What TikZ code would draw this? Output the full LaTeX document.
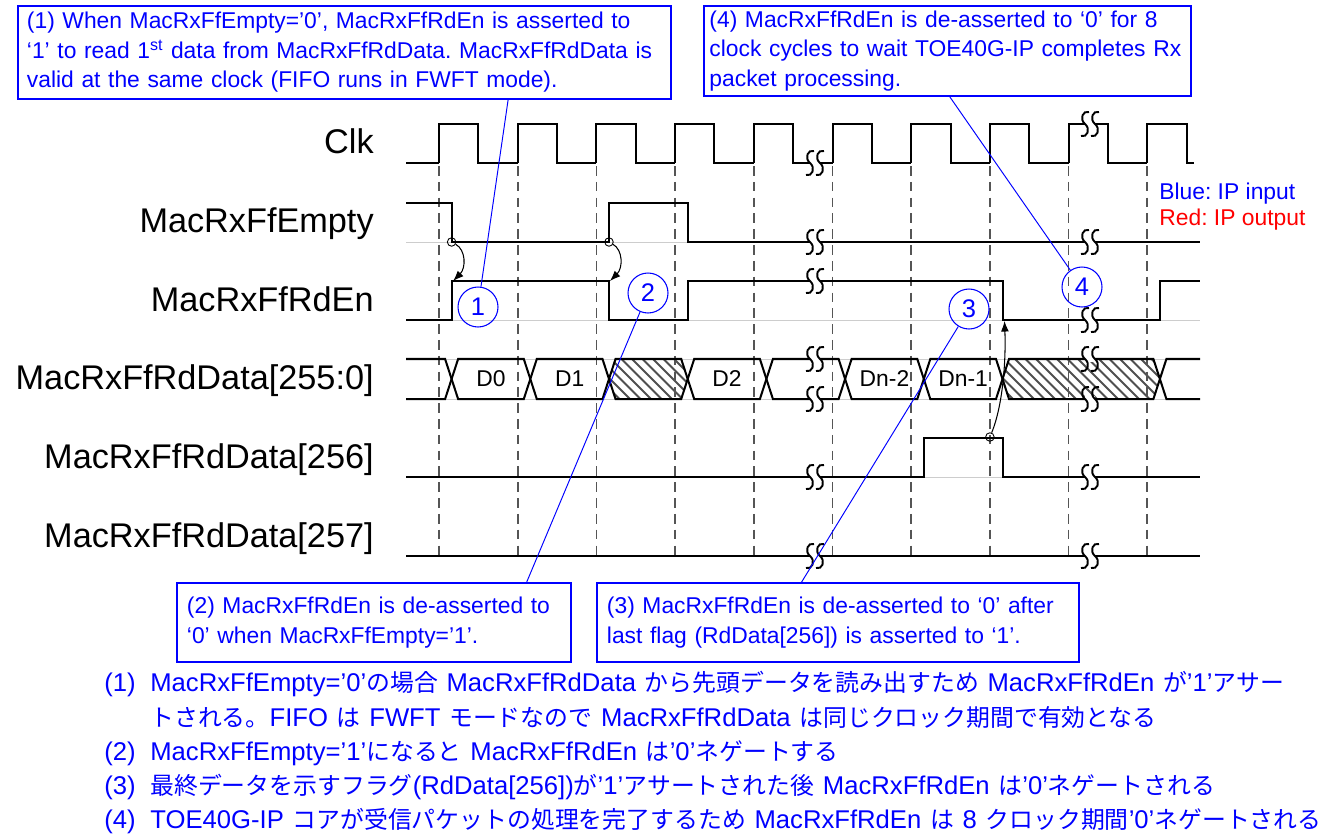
\documentclass[tikz,border=0pt]{standalone}
\usepackage{fontspec}
\setmainfont{Liberation Sans}
\newfontfamily\jpfont[Scale=0.93]{Noto Sans CJK JP}
\usetikzlibrary{arrows.meta, calc}
\definecolor{cBlue}{RGB}{0,0,255}
\definecolor{cRed}{RGB}{255,0,0}
\definecolor{cDash}{RGB}{85,85,85}
\definecolor{cHatch}{RGB}{80,80,80}
\definecolor{cGuide}{RGB}{205,205,205}
\newcommand{\jp}[1]{{\jpfont #1}}
\newcommand{\boxfont}{\fontsize{13}{16.8}\selectfont}
\newcommand{\jpsize}{\fontsize{14.6}{17}\selectfont}
\newcommand{\widespaces}{\spaceskip=0.34em\relax}
\frenchspacing
%% break mark on a waveform: gap plus two S strokes
\newcommand{\sigbreak}[2]{%
  \fill[white] ({#1-5},{#2-3}) rectangle ({#1+5},{#2+3});
  \foreach \sx in {-5,5}
    \draw[brk] ({#1+\sx+4},{#2-12}) .. controls ({#1+\sx-2},{#2-14}) and ({#1+\sx-6},{#2-5}) .. ({#1+\sx},#2)
      .. controls ({#1+\sx+6},{#2+5}) and ({#1+\sx+2},{#2+14}) .. ({#1+\sx-4},{#2+12});
}
\tikzset{
  sig/.style={draw=black, line width=1.15pt, line join=miter},
  guide/.style={draw=cGuide, line width=0.5pt},
  tick/.style={draw=cDash, line width=1pt, dash pattern=on 5.5pt off 3.5pt},
  hatch/.style={draw=cHatch, line width=1.2pt},
  brk/.style={draw=black, line width=1.1pt},
  siglabel/.style={anchor=base east, inner sep=0pt, font=\fontsize{19.5}{22}\selectfont},
  buslabel/.style={inner sep=0pt, font=\boxfont},
  note/.style={rectangle, draw=cBlue, line width=1.1pt, text=cBlue, font=\boxfont,
               align=left, anchor=north west, inner xsep=0.2cm, inner ysep=0pt},
  callout/.style={circle, draw=cBlue, line width=0.6pt, text=cBlue, minimum size=0.8cm,
                  inner sep=0pt, font=\fontsize{14.5}{14.5}\selectfont},
  leader/.style={draw=cBlue, line width=0.55pt},
  cdot/.style={circle, draw=black, line width=0.5pt, minimum size=0.17cm, inner sep=0pt},
  cause/.style={-{Latex[length=6pt,width=4.5pt]}, draw=black, line width=0.6pt},
  legend/.style={anchor=west, inner sep=0pt, font=\boxfont},
  jpline/.style={anchor=base west, inner sep=0pt, text=cBlue, font=\jpsize,
                 execute at begin node=\widespaces},
}

\begin{document}
\begin{tikzpicture}[x=0.02cm, y=-0.02cm]
\useasboundingbox (0,0) rectangle (1325,836);

%% ============================================================
%%  TIMING CONSTANTS
%% ============================================================
\def\tz{439}   % first rising clock edge
\def\tp{78.7}  % clock period
\def\dl{12.6}  % delay of outputs after the edge
\def\hx{6.5}   % half width of a bus crossing
\def\xa{406}
\def\xb{1200}
\def\yC{163}  \def\yE{242}  \def\yR{320}
\def\yBt{359} \def\yBm{379} \def\yBb{399}
\def\yF{477}  \def\yG{556}

%% ----- faint guides -----
\foreach \gy in {\yE,\yR,\yBt,\yBb,\yF}
  \draw[guide] (\xa,\gy) -- (\xb,\gy);

%% ----- hatched (invalid) bus segments -----
\foreach \a/\b in {2/3,7/9} {
  \pgfmathsetmacro\ca{\tz+\dl+\a*\tp}
  \pgfmathsetmacro\cb{\tz+\dl+\b*\tp}
  \begin{scope}
    \clip (\ca,\yBm) -- ({\ca+\hx},\yBt) -- ({\cb-\hx},\yBt) -- (\cb,\yBm)
      -- ({\cb-\hx},\yBb) -- ({\ca+\hx},\yBb) -- cycle;
    \foreach \s in {0,...,20}
      \draw[hatch] ({\ca-40+\s*10.5},\yBt) -- ++(40,40);
  \end{scope}
}

%% ----- clock edge markers -----
\foreach \k in {0,...,9}
  \draw[tick] ({\tz+\k*\tp},166) -- ({\tz+\k*\tp},\yG);

%% ============================================================
%%  WAVEFORMS
%% ============================================================
% Clk
\draw[sig] (\xa,\yC) -- (\tz,\yC);
\foreach \k in {0,...,8}
  \draw[sig] ({\tz+\k*\tp},\yC) -- ++(0,-39) -- ++({\tp/2},0) -- ++(0,39) -- ++({\tp/2},0);
\draw[sig] ({\tz+9*\tp},\yC) -- ++(0,-39) -- ++({\tp/2},0) -- ++(0,39) -- (1194,\yC);

% MacRxFfEmpty
\draw[sig] (\xa,{\yE-39}) -- ({\tz+\dl},{\yE-39}) -- ({\tz+\dl},\yE)
  -- ({\tz+\dl+2*\tp},\yE) -- ++(0,-39) -- ({\tz+\dl+3*\tp},{\yE-39}) -- ++(0,39) -- (\xb,\yE);

% MacRxFfRdEn
\draw[sig] (\xa,\yR) -- ({\tz+\dl},\yR) -- ++(0,-39) -- ({\tz+\dl+2*\tp},{\yR-39}) -- ++(0,39)
  -- ({\tz+\dl+3*\tp},\yR) -- ++(0,-39) -- ({\tz+\dl+7*\tp},{\yR-39}) -- ++(0,39)
  -- ({\tz+\dl+9*\tp},\yR) -- ++(0,-39) -- (\xb,{\yR-39});

% MacRxFfRdData[255:0]
\draw[sig] (\xa,\yBt) -- ({\tz+\dl-\hx},\yBt) -- ({\tz+\dl},\yBm) -- ({\tz+\dl-\hx},\yBb) -- (\xa,\yBb);
\foreach \a/\b in {0/1,1/2,2/3,3/4,4/5,5/6,6/7,7/9} {
  \pgfmathsetmacro\ca{\tz+\dl+\a*\tp}
  \pgfmathsetmacro\cb{\tz+\dl+\b*\tp}
  \draw[sig] (\ca,\yBm) -- ({\ca+\hx},\yBt) -- ({\cb-\hx},\yBt) -- (\cb,\yBm)
    -- ({\cb-\hx},\yBb) -- ({\ca+\hx},\yBb) -- cycle;
}
\draw[sig] (\xb,\yBt) -- ({\tz+\dl+9*\tp+\hx},\yBt) -- ({\tz+\dl+9*\tp},\yBm)
  -- ({\tz+\dl+9*\tp+\hx},\yBb) -- (\xb,\yBb);
\foreach \a/\txt/\nm in {0/D0/dA, 1/D1/dB, 3/D2/dC, 5/Dn-2/dD, 6/Dn-1/dE}
  \node[buslabel] (\nm) at ({\tz+\dl+(\a+0.5)*\tp},\yBm) {\txt};

% MacRxFfRdData[256]
\draw[sig] (\xa,\yF) -- ({\tz+\dl+6*\tp},\yF) -- ++(0,-39) -- ({\tz+\dl+7*\tp},{\yF-39})
  -- ++(0,39) -- (\xb,\yF);

% MacRxFfRdData[257]
\draw[sig] (\xa,\yG) -- (\xb,\yG);

%% ----- time breaks -----
\foreach \bx/\by in {815/163, 1090/124, 815/242, 1090/242, 815/281, 1090/320,
                     815/359, 815/399, 1090/359, 1090/399, 815/477, 1090/477,
                     815/556, 1090/556}
  \sigbreak{\bx}{\by};

%% ============================================================
%%  SIGNAL NAMES
%% ============================================================
\node[siglabel] (lClk)   at (374,153) {Clk};
\node[siglabel] (lEmpty) at (374,232) {MacRxFfEmpty};
\node[siglabel] (lRdEn)  at (374,311) {MacRxFfRdEn};
\node[siglabel] (lData)  at (374,389) {MacRxFfRdData[255:0]};
\node[siglabel] (lLast)  at (374,468) {MacRxFfRdData[256]};
\node[siglabel] (lExtra) at (374,547) {MacRxFfRdData[257]};

\node[legend, text=cBlue] (legIn)  at (1159,194) {Blue: IP input};
\node[legend, text=cRed]  (legOut) at (1159,220) {Red: IP output};

%% ============================================================
%%  CAUSE ARROWS
%% ============================================================
\node[cdot] (d1) at ({\tz+\dl},\yE) {};
\node[cdot] (d2) at ({\tz+\dl+2*\tp},\yE) {};
\node[cdot] (d3) at ({\tz+7*\tp},{\yF-40}) {};
\coordinate (a1) at ({\tz+\dl+1.5},{\yR-39});
\coordinate (a2) at ({\tz+\dl+2*\tp+1},{\yR-39});
\coordinate (a3) at ({\tz+\dl+7*\tp+2},{\yR+1});
\draw[cause] (d1) .. controls (466,250) and (466,268) .. (a1);
\draw[cause] (d2) .. controls (623,250) and (623,268) .. (a2);
\draw[cause] (d3) .. controls (1003,405) and (1006,360) .. (a3);

%% ============================================================
%%  NOTES
%% ============================================================
\node[callout] (c1) at (478,307) {1};
\node[callout] (c2) at (648,293) {2};
\node[callout] (c3) at (969,309) {3};
\node[callout] (c4) at (1082,287) {4};

\node[note, inner xsep=0.18cm, text width=12.7cm, minimum height=1.86cm] (box1) at (17,5) {%
  (1) When MacRxFfEmpty=’0’, MacRxFfRdEn is asserted to\\
  ‘1’ to read 1\textsuperscript{st} data from MacRxFfRdData. MacRxFfRdData is\\
  valid at the same clock (FIFO runs in FWFT mode).};
\node[note, inner xsep=0.11cm, text width=9.52cm, minimum height=1.8cm] (box4) at (703,5) {%
  (4) MacRxFfRdEn is de-asserted to ‘0’ for 8\\
  clock cycles to wait TOE40G-IP completes Rx\\
  packet processing.};
\node[note, text width=7.48cm, minimum height=1.58cm] (box2) at (176,582) {%
  (2) MacRxFfRdEn is de-asserted to\\
  ‘0’ when MacRxFfEmpty=’1’.};
\node[note, text width=9.24cm, minimum height=1.58cm] (box3) at (596,582) {%
  (3) MacRxFfRdEn is de-asserted to ‘0’ after\\
  last flag (RdData[256]) is asserted to ‘1’.};

\draw[leader] ($(box1.south west)!0.75!(box1.south east)$) -- (c1);
\draw[leader] ($(box2.north west)!0.886!(box2.north east)$) -- (c2);
\draw[leader] ($(box3.north west)!0.425!(box3.north east)$) -- (c3);
\draw[leader] ($(box4.south west)!0.505!(box4.south east)$) -- (c4);

%% ============================================================
%%  JAPANESE SUMMARY
%% ============================================================
\node[jpline] (jn1) at (104,691) {(1)};
\node[jpline] (jt1) at (150,691) {MacRxFfEmpty=’0’\jp{の場合} MacRxFfRdData \jp{から先頭データを読み出すため} MacRxFfRdEn \jp{が}’1’\jp{アサー}};
\node[jpline] (jt1b) at (150,726) {\jp{トされる。}FIFO \jp{は} FWFT \jp{モードなので} MacRxFfRdData \jp{は同じクロック期間で有効となる}};
\node[jpline] (jn2) at (104,760) {(2)};
\node[jpline] (jt2) at (150,760) {MacRxFfEmpty=’1’\jp{になると} MacRxFfRdEn \jp{は}’0’\jp{ネゲートする}};
\node[jpline] (jn3) at (104,794) {(3)};
\node[jpline] (jt3) at (150,794) {\jp{最終データを示すフラグ}(RdData[256])\jp{が}’1’\jp{アサートされた後} MacRxFfRdEn \jp{は}’0’\jp{ネゲートされる}};
\node[jpline] (jn4) at (104,828) {(4)};
\node[jpline] (jt4) at (150,828) {TOE40G-IP \jp{コアが受信パケットの処理を完了するため} MacRxFfRdEn \jp{は} 8 \jp{クロック期間}’0’\jp{ネゲートされる}};

\end{tikzpicture}
\end{document}
